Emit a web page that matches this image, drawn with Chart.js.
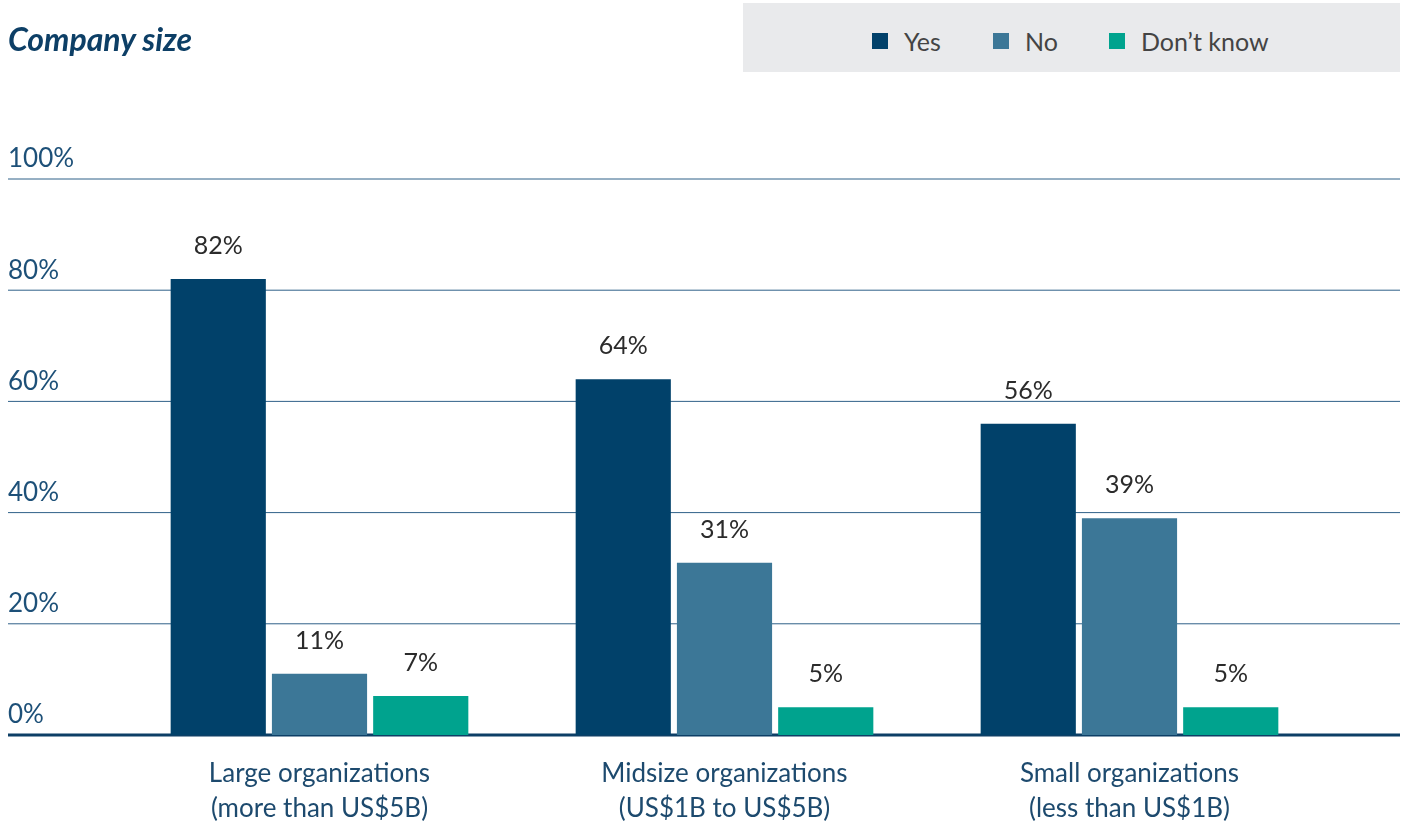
<!DOCTYPE html>
<html>
<head>
<meta charset="utf-8">
<script src="https://cdn.jsdelivr.net/npm/chart.js@4"></script>
<style>
  body { margin: 0; background: #fff; font-family: Lato, "Noto Sans", sans-serif; }
  #wrap { position: relative; width: 1409px; height: 825px; }
  #titre { position: absolute; left: 8px; top: 19px; font: italic 700 32px Lato; color: #0d3f66; }
  #legende { position: absolute; left: 743px; top: 3px; width: 657px; height: 69px; background: #e9eaec; }
  .item { position: absolute; top: 20px; height: 36px; display: flex; align-items: center; white-space: nowrap; font: 25px Lato; color: #444; }
  .carre { display: inline-block; width: 16px; height: 16px; margin-right: 16px; }
</style>
</head>
<body>
<div id="wrap">
  <div id="titre">Company size</div>
  <div id="legende"></div>
  <canvas id="grafico" width="1409" height="825"></canvas>
</div>
<script>
const categorias = [["Large organizations", "(more than US$5B)"], ["Midsize organizations", "(US$1B to US$5B)"], ["Small organizations", "(less than US$1B)"]];
const yes = [82, 64, 56];
const no = [11, 31, 39];
const dontKnow = [7, 5, 5];
const nomesSeries = ["Yes", "No", "Don\u2019t know"];
const cores = ["#01416a", "#3c7797", "#00a38e"];
const ticksY = [0, 20, 40, 60, 80, 100];

// linhas de grade e rótulos do eixo y, na largura toda
const gradePlugin = {
    id: "grade",
    beforeDatasetsDraw(chart) {
        const ctx = chart.ctx;
        const y = chart.scales.y;
        ctx.save();
        for (let v of ticksY) {
            let py = y.getPixelForValue(v);
            ctx.beginPath();
            ctx.lineWidth = v == 0 ? 3 : 1;
            ctx.strokeStyle = v == 0 ? "#0d3f66" : "#2f6088";
            ctx.moveTo(8, py);
            ctx.lineTo(1400, py);
            ctx.stroke();
            ctx.fillStyle = "#1d5078";
            ctx.font = "26px Lato";
            ctx.textAlign = "left";
            ctx.textBaseline = "middle";
            ctx.fillText(v + "%", 8, py - 20);
        }
        ctx.restore();
    }
};

// valores acima das barras
const valoresPlugin = {
    id: "valores",
    afterDatasetsDraw(chart) {
        const ctx = chart.ctx;
        ctx.save();
        ctx.fillStyle = "#2b2b2b";
        ctx.font = "25px Lato";
        ctx.textAlign = "center";
        ctx.textBaseline = "middle";
        chart.data.datasets.forEach(function (ds, i) {
            chart.getDatasetMeta(i).data.forEach(function (bar, j) {
                ctx.fillText(ds.data[j] + "%", bar.x, bar.y - 33);
            });
        });
        ctx.restore();
    }
};

const dados = {
    labels: categorias,
    datasets: [yes, no, dontKnow].map(function (d, i) {
        return { label: nomesSeries[i], data: d, backgroundColor: cores[i], borderWidth: 0 };
    })
};

const config = {
    type: "bar",
    data: dados,
    options: {
        responsive: false,
        animation: false,
        layout: { padding: { left: 117, right: 77, top: 179, bottom: 0 } },
        plugins: { legend: { display: false }, tooltip: { enabled: false } },
        datasets: { bar: { categoryPercentage: 0.75, barPercentage: 0.94 } },
        scales: {
            x: {
                grid: { display: false },
                border: { display: false },
                ticks: { color: "#1d4a6e", font: { family: "Lato", size: 26, lineHeight: 1.36 }, padding: 13 },
                afterFit: function (scale) { scale.height = 90; }
            },
            y: { display: false, min: 0, max: 100 }
        }
    },
    plugins: [gradePlugin, valoresPlugin]
};

const grafico = new Chart(document.getElementById("grafico"), config);

const legenda = document.getElementById("legende");
const posicoes = [129, 250, 366];
dados.datasets.forEach(function (ds, i) {
    const item = document.createElement("div");
    item.className = "item";
    item.style.left = posicoes[i] + "px";
    const carre = document.createElement("span");
    carre.className = "carre";
    carre.style.backgroundColor = ds.backgroundColor;
    const texto = document.createElement("span");
    texto.textContent = ds.label;
    item.append(carre);
    item.append(texto);
    legenda.append(item);
});
</script>
</body>
</html>
